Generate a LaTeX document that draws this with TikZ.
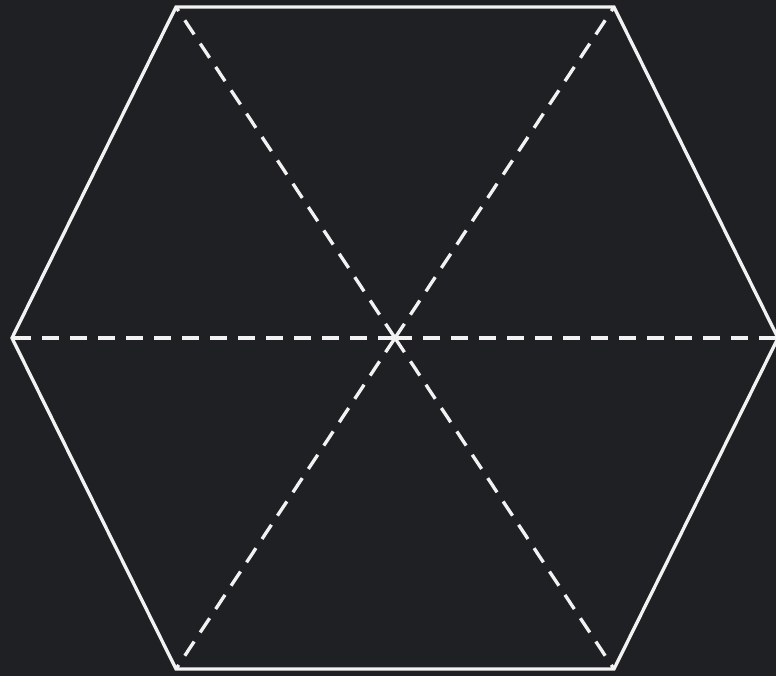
\documentclass[tikz,border=0pt]{standalone}
\definecolor{sfondo}{HTML}{1F2023}
\definecolor{tratto}{HTML}{F2F2F2}
\begin{document}
\begin{tikzpicture}[x=0.75pt,y=-0.75pt,
    lato/.style={draw=tratto, line width=2.5pt},
    raggio/.style={draw=tratto, line width=2.5pt, dash pattern=on 12.75pt off 8.25pt}]
    % parametri
    \def\a{383}
    \def\b{219}
    \def\h{331}
    \def\cx{395}
    \def\cy{338}

    % sfondo
    \fill[sfondo] (0,0) rectangle (776,676);
    \useasboundingbox (0,0) rectangle (776,676);

    % centro e vertici
    \coordinate (O) at (\cx,\cy);
    \coordinate (V0) at (\cx+\a,\cy);
    \coordinate (V1) at (\cx+\b,\cy+\h);
    \coordinate (V2) at (\cx-\b,\cy+\h);
    \coordinate (V3) at (\cx-\a,\cy);
    \coordinate (V4) at (\cx-\b,\cy-\h);
    \coordinate (V5) at (\cx+\b,\cy-\h);

    % esagono
    \draw[lato] (V0) -- (V1) -- (V2) -- (V3) -- (V4) -- (V5) -- cycle;

    % raggi tratteggiati
    \foreach \i in {0,...,5}
        \draw[raggio] (O) -- (V\i);
\end{tikzpicture}
\end{document}
